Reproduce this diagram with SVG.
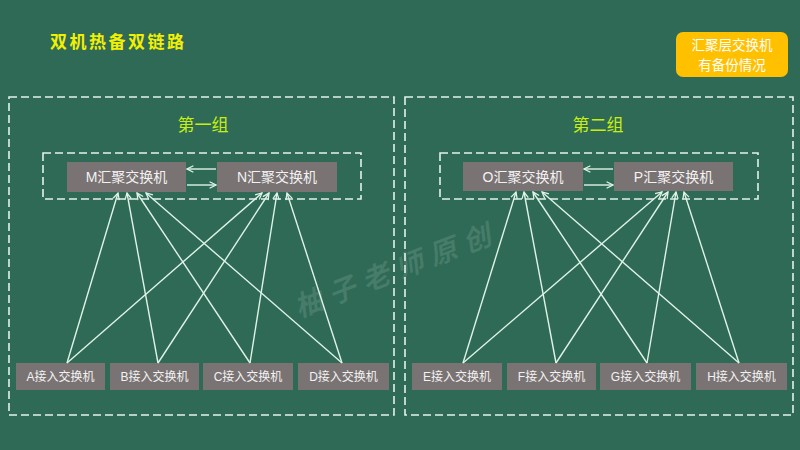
<svg xmlns="http://www.w3.org/2000/svg" width="800" height="450" viewBox="0 0 800 450">
<defs>
<style>
.bg{fill:#2e6a55}
.dash{fill:none;stroke:#e2f2ea;stroke-width:1.6;stroke-dasharray:8 4}
.node{fill:#7a7373}
.agg{font-family:"Liberation Sans","Noto Sans CJK SC",sans-serif;font-size:14px;fill:#f2f2f2;text-anchor:middle}
.acc{font-family:"Liberation Sans","Noto Sans CJK SC",sans-serif;font-size:12px;fill:#f2f2f2;text-anchor:middle}
.grp{font-family:"Noto Sans CJK SC",sans-serif;font-size:17px;fill:#c8ee10;text-anchor:middle}
.note{font-family:"Noto Sans CJK SC",sans-serif;font-size:13.5px;fill:#ffffff;text-anchor:middle}
.link{fill:none;stroke:#dff3e8;stroke-width:1.4;marker-end:url(#arr)}
</style>
<marker id="arr" viewBox="0 0 10 10" refX="9" refY="5" markerWidth="8" markerHeight="8" markerUnits="userSpaceOnUse" orient="auto">
<path d="M1,1 L9,5 L1,9" fill="none" stroke="#dff3e8" stroke-width="1.6"/>
</marker>
</defs>
<rect class="bg" x="0" y="0" width="800" height="450"/>
<text x="50" y="48" font-family="Noto Sans CJK SC,sans-serif" font-size="17" font-weight="bold" fill="#f2f000" letter-spacing="2.5">双机热备双链路</text>
<g id="note">
<rect x="676" y="32" width="112" height="45" rx="7" fill="#ffc000"/>
<text class="note" x="732" y="50">汇聚层交换机</text>
<text class="note" x="732" y="70">有备份情况</text>
</g>
<text x="0" y="0" transform="translate(397 272) rotate(-21)" font-family="Noto Sans CJK SC,sans-serif" font-size="28" font-style="italic" font-weight="bold" fill="#ffffff" fill-opacity="0.12" text-anchor="middle" dominant-baseline="middle" letter-spacing="8">柚子老师原创</text>
<g id="group1">
<rect class="dash" x="9" y="97" width="385" height="318"/>
<text class="grp" x="203" y="131">第一组</text>
<rect class="dash" x="43" y="153" width="318" height="46"/>
</g>
<g id="group2">
<rect class="dash" x="405" y="97" width="388" height="318"/>
<text class="grp" x="598" y="131">第二组</text>
<rect class="dash" x="440" y="153" width="318" height="46"/>
</g>
<g id="M"><rect class="node" x="67" y="162" width="119" height="30"/><text class="agg" x="126.5" y="182">M汇聚交换机</text></g>
<g id="N"><rect class="node" x="217" y="162" width="120" height="30"/><text class="agg" x="277" y="182">N汇聚交换机</text></g>
<g id="O"><rect class="node" x="463" y="162" width="120" height="29"/><text class="agg" x="523" y="181.5">O汇聚交换机</text></g>
<g id="P"><rect class="node" x="614" y="162" width="119" height="29"/><text class="agg" x="673.5" y="181.5">P汇聚交换机</text></g>
<g id="A"><rect class="node" x="16" y="363" width="89" height="27"/><text class="acc" x="60.5" y="381">A接入交换机</text></g>
<g id="B"><rect class="node" x="110" y="363" width="89" height="27"/><text class="acc" x="154.5" y="381">B接入交换机</text></g>
<g id="C"><rect class="node" x="203" y="363" width="90" height="27"/><text class="acc" x="248" y="381">C接入交换机</text></g>
<g id="D"><rect class="node" x="298" y="363" width="91" height="27"/><text class="acc" x="343.5" y="381">D接入交换机</text></g>
<g id="E"><rect class="node" x="412" y="363" width="90" height="27"/><text class="acc" x="457" y="381">E接入交换机</text></g>
<g id="F"><rect class="node" x="507" y="363" width="89" height="27"/><text class="acc" x="551.5" y="381">F接入交换机</text></g>
<g id="G"><rect class="node" x="600" y="363" width="91" height="27"/><text class="acc" x="645.5" y="381">G接入交换机</text></g>
<g id="H"><rect class="node" x="696" y="363" width="91" height="27"/><text class="acc" x="741.5" y="381">H接入交换机</text></g>
<g id="connectors">
<line class="link" x1="216" y1="169" x2="187" y2="169"/>
<line class="link" x1="187" y1="185" x2="216" y2="185"/>
<line class="link" x1="613" y1="169" x2="584" y2="169"/>
<line class="link" x1="584" y1="185" x2="613" y2="185"/>
<line class="link" x1="67" y1="363" x2="118" y2="193"/>
<line class="link" x1="158" y1="363" x2="127" y2="193"/>
<line class="link" x1="250" y1="363" x2="137" y2="193"/>
<line class="link" x1="342" y1="363" x2="146" y2="193"/>
<line class="link" x1="67" y1="363" x2="262" y2="193"/>
<line class="link" x1="158" y1="363" x2="269" y2="193"/>
<line class="link" x1="250" y1="363" x2="277" y2="193"/>
<line class="link" x1="342" y1="363" x2="287" y2="193"/>
<line class="link" x1="463" y1="363" x2="516" y2="192"/>
<line class="link" x1="556" y1="363" x2="524" y2="192"/>
<line class="link" x1="647" y1="363" x2="533" y2="192"/>
<line class="link" x1="739" y1="363" x2="542" y2="192"/>
<line class="link" x1="463" y1="363" x2="662" y2="192"/>
<line class="link" x1="556" y1="363" x2="668" y2="192"/>
<line class="link" x1="647" y1="363" x2="676" y2="192"/>
<line class="link" x1="739" y1="363" x2="684" y2="192"/>
</g>
</svg>
